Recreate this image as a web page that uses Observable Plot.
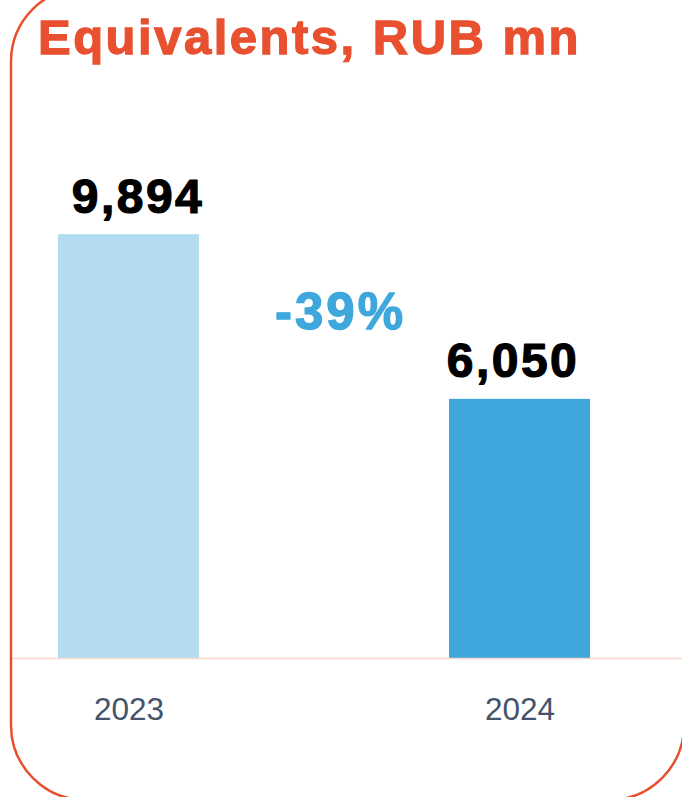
<!DOCTYPE html>
<html>
<head>
<meta charset="utf-8">
<script src="https://cdn.jsdelivr.net/npm/d3@7"></script>
<script src="https://cdn.jsdelivr.net/npm/@observablehq/plot@0.6"></script>
<style>
  html, body { margin: 0; padding: 0; background: #fff; }
  body { width: 682px; height: 797px; overflow: hidden; position: relative; font-family: "Liberation Sans", Arial, sans-serif; }
  #title { height: 70px; box-sizing: border-box; padding-top: 13px; padding-left: 38px; font: bold 49px/49px "Liberation Sans", Arial, sans-serif; letter-spacing: 2.5px; color: #e8502f; -webkit-text-stroke: 1.3px #e8502f; white-space: nowrap; }
  #frame { position: absolute; left: 0; top: 0; pointer-events: none; }
  #chart svg { display: block; }
  .vlabel text { letter-spacing: 2.5px; }
  .change text { letter-spacing: 3px; }
</style>
</head>
<body>
<div id="title"></div>
<div id="chart"></div>
<svg id="frame" width="682" height="797"><path d="M86,-13 A75,75 0 0 0 11,62 L11,725 A75,75 0 0 0 86,800 L609,800 A75,75 0 0 0 684,725" fill="none" stroke="#e8502f" stroke-width="2.5"/></svg>
<script>
const title = "Equivalents, RUB mn";
const years = ["2023", "2024"];
const values = [9894, 6050];
const valueLabels = ["9,894", "6,050"];
const barColors = ["#b3dcf1", "#3ea7db"];
const changeLabel = "-39%";

document.getElementById("title").textContent = title;

const data = years.map((y, i) => ({year: y, value: values[i], label: valueLabels[i], color: barColors[i]}));

const labelStyle = {text: "label", lineAnchor: "bottom", dy: -22, fontSize: 48, fontWeight: "bold",
  fill: "#000", stroke: "#000", strokeWidth: 1.2, className: "vlabel"};

const chart = Plot.plot({
  width: 682,
  height: 727,
  marginLeft: 12,
  marginRight: 0,
  marginTop: 74,
  marginBottom: 139,
  style: {fontFamily: "'Liberation Sans', Arial, sans-serif", background: "transparent"},
  x: {domain: years, range: [-21.4, 668.4], paddingInner: 0.64, paddingOuter: 0.2, label: null},
  y: {domain: [0, 12000], axis: null},
  marks: [
    Plot.barY(data, {x: "year", y: "value", fill: "color"}),
    Plot.ruleY([0], {stroke: "#f9d8cf", strokeWidth: 1.5}),
    Plot.text(data.slice(0, 1), {x: "year", y: "value", ...labelStyle, dx: 9}),
    Plot.text(data.slice(1), {x: "year", y: "value", ...labelStyle, dx: -7}),
    Plot.text([changeLabel], {text: d => d, frameAnchor: "top", lineAnchor: "top", dx: -7, dy: 148,
      fontSize: 51, fontWeight: "bold", fill: "#3ea7db", stroke: "#3ea7db", strokeWidth: 1.3, className: "change"}),
    Plot.axisX({tickSize: 0, tickPadding: 39, fontSize: 31.5, color: "#44546a", label: null, fill: "#44546a"})
  ]
});
document.getElementById("chart").appendChild(chart);
</script>
</body>
</html>
